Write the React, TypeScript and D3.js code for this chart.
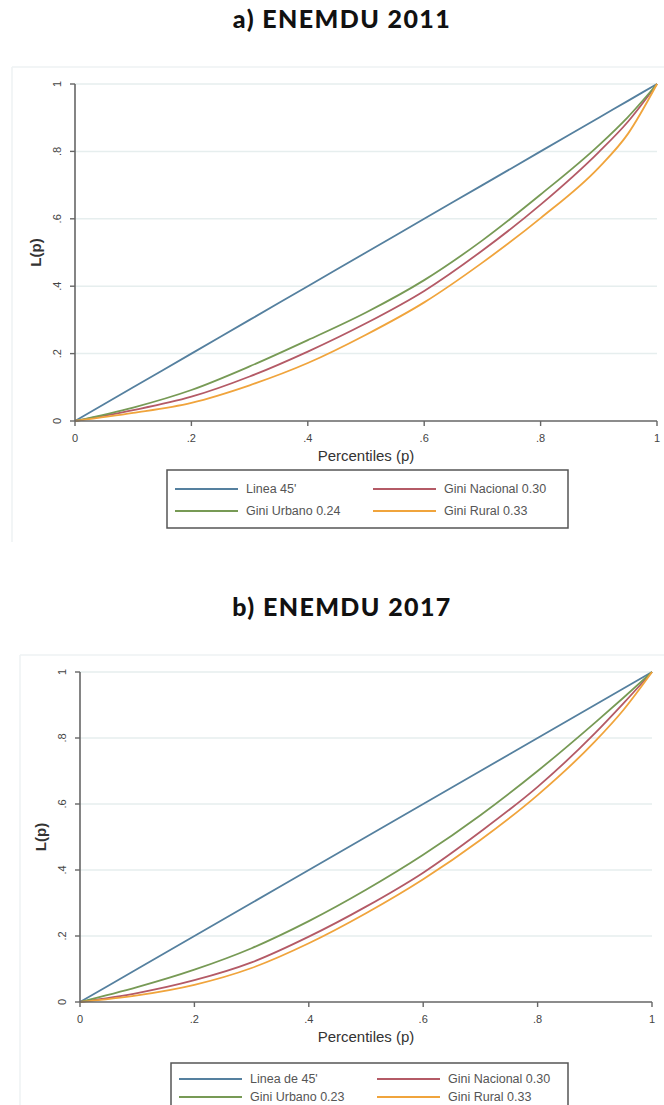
import React from "react";
import * as d3 from "d3";

const pctA = [0, 0.1, 0.2, 0.3, 0.4, 0.5, 0.6, 0.7, 0.8, 0.9, 0.95, 1];
const lineA45 = [0, 0.1, 0.2, 0.3, 0.4, 0.5, 0.6, 0.7, 0.8, 0.9, 0.95, 1];
const urbanoA = [0, 0.04, 0.092, 0.162, 0.24, 0.322, 0.418, 0.536, 0.672, 0.818, 0.902, 1];
const nacionalA = [0, 0.032, 0.072, 0.132, 0.206, 0.29, 0.386, 0.506, 0.642, 0.798, 0.888, 1];
const ruralA = [0, 0.024, 0.054, 0.106, 0.172, 0.256, 0.352, 0.47, 0.602, 0.752, 0.852, 1];

const pctB = [0, 0.1, 0.2, 0.3, 0.4, 0.5, 0.6, 0.7, 0.8, 0.9, 0.95, 1];
const lineB45 = [0, 0.1, 0.2, 0.3, 0.4, 0.5, 0.6, 0.7, 0.8, 0.9, 0.95, 1];
const urbanoB = [0, 0.045, 0.098, 0.163, 0.245, 0.34, 0.446, 0.566, 0.7, 0.846, 0.922, 1];
const nacionalB = [0, 0.027, 0.066, 0.12, 0.198, 0.289, 0.392, 0.516, 0.652, 0.814, 0.905, 1];
const ruralB = [0, 0.02, 0.052, 0.103, 0.178, 0.269, 0.372, 0.491, 0.627, 0.789, 0.885, 1];

const tickValues = [0, 0.2, 0.4, 0.6, 0.8, 1];
const tickLabels = ["0", ".2", ".4", ".6", ".8", "1"];

const legendA = ["Linea 45'", "Gini Nacional 0.30", "Gini Urbano 0.24", "Gini  Rural 0.33"];
const legendB = ["Linea de 45'", "Gini Nacional 0.30", "Gini Urbano 0.23", "Gini Rural 0.33"];

const COLORS = { blue: "#55809f", red: "#b45a66", green: "#779a55", orange: "#f0a43c" };

type PanelProps = {
  title: string;
  titleY: number;
  frame: { x: number; y: number };
  x0: number; x1: number; y0: number; y1: number;
  pct: number[];
  series: { values: number[]; color: string }[];
  legend: string[];
  legendBox: { x: number; y: number; w: number; h: number; row1: number; row2: number };
};

const FONT = "'Liberation Sans', Arial, sans-serif";

function Panel(p: PanelProps) {
  const x = d3.scaleLinear().domain([0, 1]).range([p.x0, p.x1]);
  const y = d3.scaleLinear().domain([0, 1]).range([p.y0, p.y1]);
  const line = d3.line<[number, number]>().x((d) => x(d[0])).y((d) => y(d[1])).curve(d3.curveMonotoneX);
  const lb = p.legendBox;
  const legendItems = [
    { label: p.legend[0], color: p.series[0].color, lx: lb.x + 8, ly: lb.row1 },
    { label: p.legend[1], color: p.series[1].color, lx: lb.x + 206, ly: lb.row1 },
    { label: p.legend[2], color: p.series[2].color, lx: lb.x + 8, ly: lb.row2 },
    { label: p.legend[3], color: p.series[3].color, lx: lb.x + 206, ly: lb.row2 },
  ];
  return (
    <g>
      <text x={342} y={p.titleY} textAnchor="middle" fontFamily="Lato, 'Open Sans', sans-serif" fontWeight={900} fontSize={25} letterSpacing={1.4} fill="#111">
        {p.title}
      </text>
      <line x1={p.frame.x} x2={664} y1={p.frame.y} y2={p.frame.y} stroke="#eef2f3" strokeWidth={1.5} />
      <line x1={p.frame.x} x2={p.frame.x} y1={p.frame.y} y2={lb.y + lb.h + 14} stroke="#eef2f3" strokeWidth={1.5} />
      {tickValues.filter((t) => t > 0).map((t) => (
        <line key={"g" + t} x1={p.x0} x2={p.x1} y1={y(t)} y2={y(t)} stroke="#e6eeee" strokeWidth={1.5} />
      ))}
      {p.series.map((s, i) => (
        <path key={i} d={line(p.pct.map((v, j) => [v, s.values[j]]) as [number, number][]) || ""} fill="none" stroke={s.color} strokeWidth={1.8} />
      ))}
      <line x1={p.x0} x2={p.x0} y1={p.y1} y2={p.y0} stroke="#666" strokeWidth={1.6} />
      <line x1={p.x0} x2={p.x1} y1={p.y0} y2={p.y0} stroke="#666" strokeWidth={1.6} />
      {tickValues.map((t, i) => (
        <g key={"y" + t}>
          <line x1={p.x0 - 5} x2={p.x0} y1={y(t)} y2={y(t)} stroke="#666" strokeWidth={1.4} />
          <text transform={`translate(${p.x0 - 14},${y(t)}) rotate(-90)`} textAnchor="middle" fontFamily={FONT} fontSize={11} fill="#444">
            {tickLabels[i]}
          </text>
        </g>
      ))}
      {tickValues.map((t, i) => (
        <g key={"x" + t}>
          <line x1={x(t)} x2={x(t)} y1={p.y0} y2={p.y0 + 5} stroke="#666" strokeWidth={1.4} />
          <text x={x(t)} y={p.y0 + 21} textAnchor="middle" fontFamily={FONT} fontSize={11} fill="#444">
            {tickLabels[i]}
          </text>
        </g>
      ))}
      <text transform={`translate(${p.x0 - 34},${(p.y0 + p.y1) / 2}) rotate(-90)`} textAnchor="middle" fontFamily={FONT} fontSize={15} fontWeight={600} fill="#333">
        L(p)
      </text>
      <text x={(p.x0 + p.x1) / 2} y={p.y0 + 40} textAnchor="middle" fontFamily={FONT} fontSize={15} fill="#333">
        Percentiles (p)
      </text>
      <rect x={lb.x} y={lb.y} width={lb.w} height={lb.h} fill="#fff" stroke="#555" strokeWidth={1.5} />
      {legendItems.map((it, i) => (
        <g key={"l" + i}>
          <line x1={it.lx} x2={it.lx + 63} y1={it.ly} y2={it.ly} stroke={it.color} strokeWidth={1.8} />
          <text x={it.lx + 71} y={it.ly + 4} fontFamily={FONT} fontSize={12.5} fill="#555">
            {it.label}
          </text>
        </g>
      ))}
    </g>
  );
}

export default function App() {
  return (
    <svg width={664} height={1105} style={{ position: "absolute", left: 0, top: 0, background: "#fff" }}>
      <Panel
        title="a) ENEMDU 2011"
        titleY={28}
        frame={{ x: 12, y: 67 }}
        x0={75} x1={657} y0={421} y1={84}
        pct={pctA}
        series={[
          { values: lineA45, color: COLORS.blue },
          { values: nacionalA, color: COLORS.red },
          { values: urbanoA, color: COLORS.green },
          { values: ruralA, color: COLORS.orange },
        ]}
        legend={legendA}
        legendBox={{ x: 167, y: 470, w: 401, h: 58, row1: 489, row2: 511 }}
      />
      <Panel
        title="b) ENEMDU 2017"
        titleY={616}
        frame={{ x: 20, y: 655 }}
        x0={80} x1={652} y0={1002} y1={672}
        pct={pctB}
        series={[
          { values: lineB45, color: COLORS.blue },
          { values: nacionalB, color: COLORS.red },
          { values: urbanoB, color: COLORS.green },
          { values: ruralB, color: COLORS.orange },
        ]}
        legend={legendB}
        legendBox={{ x: 171, y: 1063, w: 397, h: 44, row1: 1079, row2: 1097 }}
      />
    </svg>
  );
}
